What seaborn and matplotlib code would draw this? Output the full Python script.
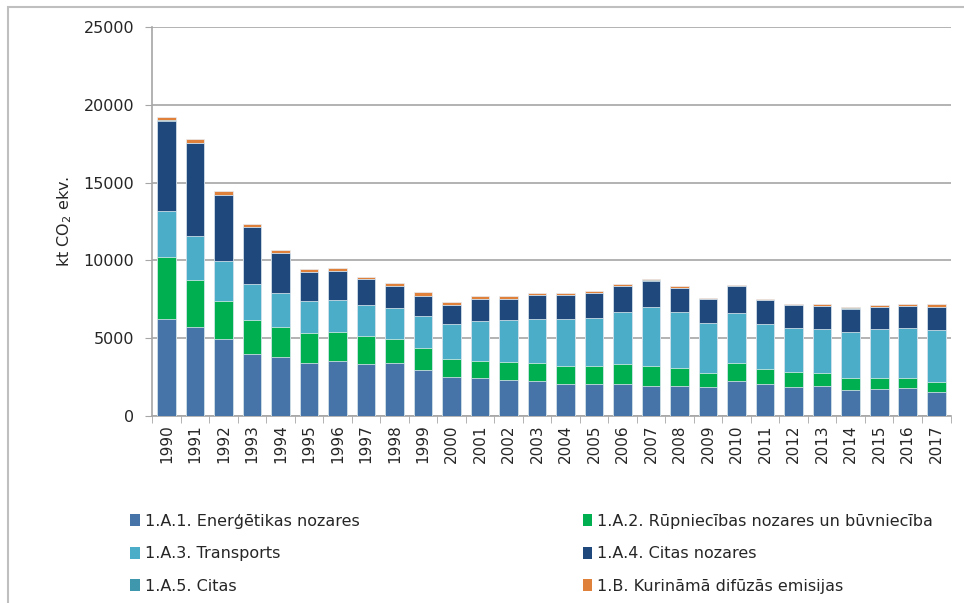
import numpy as np
import pandas as pd
import matplotlib
matplotlib.use('Agg')
import matplotlib.pyplot as plt
from matplotlib.patches import Patch, Rectangle
import seaborn as sns

# Dati (kt CO2 ekv.), nolasīti no attēla
years = [str(y) for y in range(1990, 2018)]
energy = [6217, 5724, 4931, 3966, 3773, 3388, 3516, 3345, 3388, 2959, 2508, 2458, 2329, 2244,
          2073, 2073, 2073, 1945, 1945, 1859, 2244, 2073, 1859, 1945, 1688, 1752, 1816, 1560]
industry = [3988, 3024, 2487, 2209, 1951, 1951, 1887, 1801, 1586, 1436, 1137, 1068, 1133, 1154,
            1133, 1133, 1261, 1261, 1132, 898, 1154, 940, 962, 812, 748, 684, 620, 620]
transport = [3002, 2830, 2530, 2315, 2209, 2079, 2080, 2015, 1994, 2016, 2251, 2564, 2693, 2821,
             3013, 3120, 3376, 3825, 3633, 3205, 3248, 2885, 2821, 2821, 2949, 3142, 3206, 3333]
other = [5788, 5981, 4267, 3645, 2551, 1823, 1822, 1651, 1394, 1307, 1244, 1432, 1367, 1560,
         1560, 1581, 1646, 1645, 1517, 1560, 1710, 1560, 1496, 1495, 1518, 1431, 1431, 1496]
citas = [20, 20, 20, 20, 20, 20, 20, 20, 20, 20, 20, 20, 20, 20,
         20, 20, 20, 60, 20, 20, 20, 20, 20, 20, 20, 20, 20, 20]
fugitive = [238, 238, 258, 194, 195, 194, 194, 108, 194, 216, 172, 173, 173, 129,
            129, 108, 108, 47, 109, 66, 44, 66, 65, 130, 108, 130, 130, 194]

labels = ['1.A.1. Enerģētikas nozares', '1.A.2. Rūpniecības nozares un būvniecība',
          '1.A.3. Transports', '1.A.4. Citas nozares', '1.A.5. Citas',
          '1.B. Kurināmā difūzās emisijas']
colors = ['#4673A8', '#00B050', '#4BADC7', '#1F497D', '#3F97AE', '#E0813B']

df = pd.DataFrame({'year': years})
series = [energy, industry, transport, other, citas, fugitive]
cum = np.cumsum(np.array(series), axis=0)

sns.set_style('white')
plt.rcParams['font.family'] = ['DejaVu Sans']

fig = plt.figure(figsize=(9.64, 6.03), dpi=100)
ax = fig.add_axes([0.158, 0.31, 0.828, 0.645])

# stacked bars: draw cumulative totals from top layer down
for i in range(len(series) - 1, -1, -1):
    df['val'] = cum[i]
    sns.barplot(data=df, x='year', y='val', color=colors[i], saturation=1, width=0.65,
                edgecolor='#E8EEF4', linewidth=0.5, errorbar=None, ax=ax, zorder=3)

ax.set_ylim(0, 25000)
ax.set_xlim(-0.5, len(years) - 0.5)
ax.set_yticks(range(0, 25001, 5000))
ax.yaxis.grid(True, color='#A6A6A6', linewidth=1.2, zorder=0)
ax.set_axisbelow(True)
for s in ['top', 'right']:
    ax.spines[s].set_visible(False)
for s in ['left', 'bottom']:
    ax.spines[s].set_color('#A6A6A6')
    ax.spines[s].set_linewidth(1.2)

ax.tick_params(axis='y', labelsize=11.5, length=5, color='#A6A6A6', left=True, pad=8)
ax.tick_params(axis='x', which='major', labelsize=11, length=0, rotation=90, pad=6)
ax.set_xticks(np.arange(-0.5, len(years), 1), minor=True)
ax.tick_params(axis='x', which='minor', length=5, color='#A6A6A6', bottom=True)
ax.set_xlabel('')
ax.set_ylabel('kt CO$_2$ ekv.', fontsize=11.5, labelpad=7)

# leģenda
handles = [Patch(facecolor=c, edgecolor='none') for c in colors]
order = [0, 2, 4, 1, 3, 5]
fig.legend([handles[i] for i in order], [labels[i] for i in order],
           loc='upper left', bbox_to_anchor=(0.135, 0.148), ncol=2, frameon=False,
           fontsize=11.5, handlelength=0.6, handleheight=0.8, handletextpad=0.3,
           labelspacing=1.1, columnspacing=14.0, borderpad=0, borderaxespad=0)

# rāmis ap attēlu
fig.patches.append(Rectangle((8 / 964, -0.05), 1.2, 1.05 - 7 / 603, transform=fig.transFigure,
                             fill=False, edgecolor='#BFBFBF', linewidth=1.5))

fig.savefig('out.png', dpi=100)
